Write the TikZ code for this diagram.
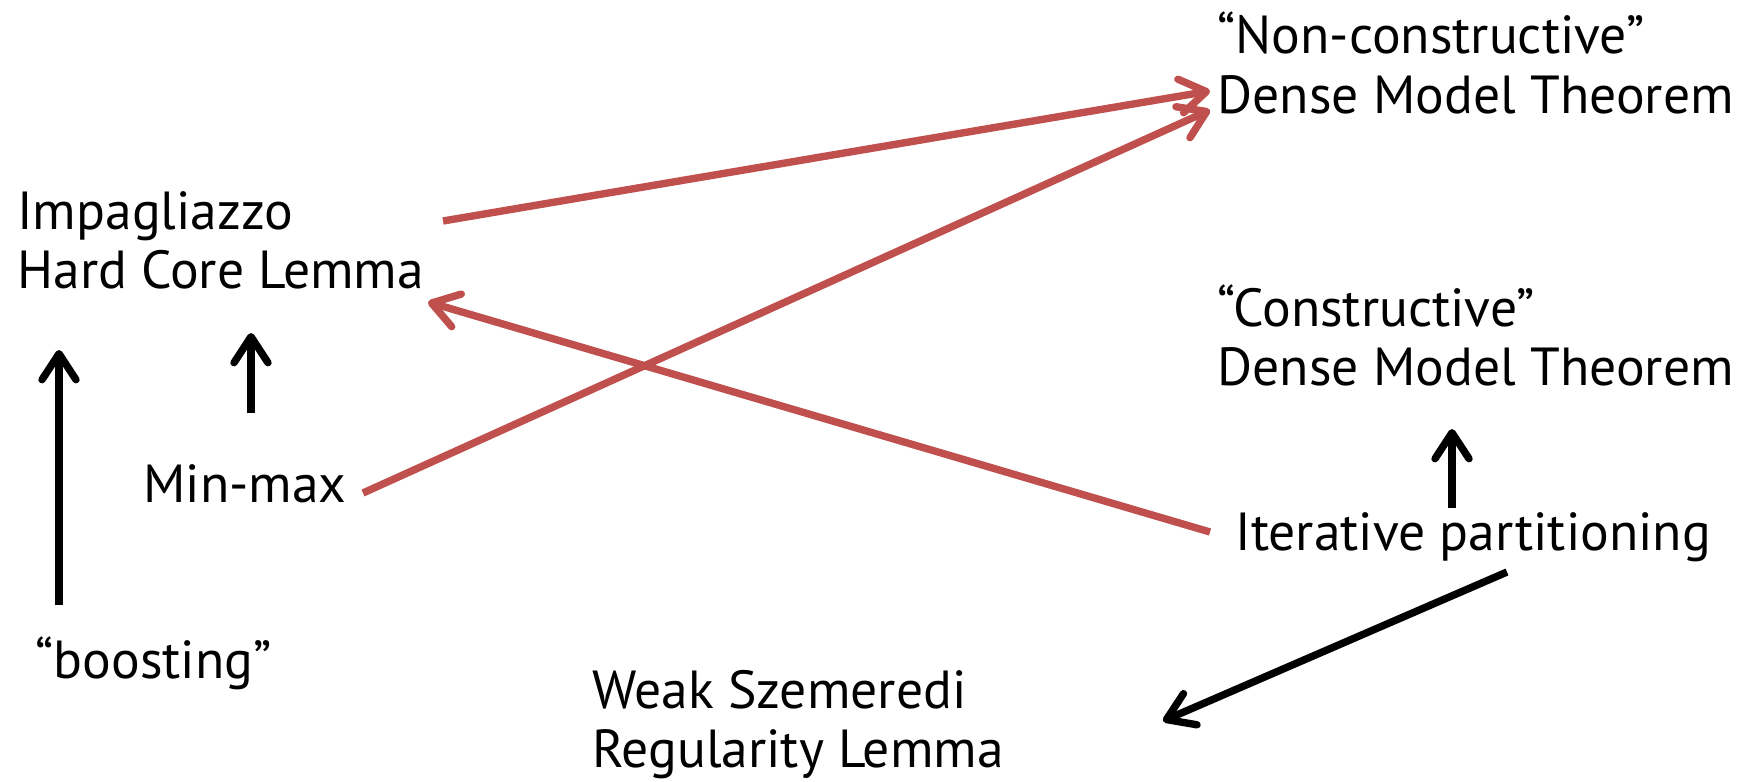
\documentclass[tikz,border=0pt]{standalone}
\usepackage{fontspec}
\setmainfont{PT Sans}
\usetikzlibrary{arrows.meta}
\definecolor{arrred}{HTML}{C0504D}
\tikzset{
  lbl/.style={anchor=base west, inner sep=0pt, align=left,
    font=\fontsize{26.8}{29.5}\selectfont},
  conn/.style={line width=3.7pt, -{Straight Barb[length=13pt,width=17pt,round]}},
  blk/.style={conn, black},
  redc/.style={conn, arrred},
}
\begin{document}
\begin{tikzpicture}[x=0.5pt,y=-0.5pt]
\useasboundingbox (0,0) rectangle (1754,781);
% multi-line nodes are anchored at the baseline of their last line
\node[lbl] (nc) at (1217,113) {“Non-constructive”\\Dense Model Theorem};
\node[lbl] (imp) at (17,288) {Impagliazzo\\Hard Core Lemma};
\node[lbl] (c) at (1217,385) {“Constructive”\\Dense Model Theorem};
\node[lbl] (mm) at (143,502) {Min-max};
\node[lbl] (it) at (1235,550) {Iterative partitioning};
\node[lbl] (boost) at (35,678) {“boosting”};
\node[lbl] (weak) at (592,767) {Weak Szemeredi\\Regularity Lemma};
% red connectors
\draw[redc] ([shift={(426,-67)}]imp.base west) -- ([shift={(-7,-22)}]nc.base west);
\draw[redc] ([shift={(220,-9)}]mm.base west) -- ([shift={(-7,-3)}]nc.base west);
\draw[redc] ([shift={(-25,-18)}]it.base west) -- ([shift={(411,14)}]imp.base west);
% black connectors
\draw[blk] ([shift={(24,-73)}]boost.base west) -- ([shift={(42,62)}]imp.base west);
\draw[blk] ([shift={(108,-89)}]mm.base west) -- ([shift={(234,45)}]imp.base west);
\draw[blk] ([shift={(217,-42)}]it.base west) -- ([shift={(235,44)}]c.base west);
\draw[blk] ([shift={(272,22)}]it.base west) -- ([shift={(571,-46)}]weak.base west);
\end{tikzpicture}
\end{document}
